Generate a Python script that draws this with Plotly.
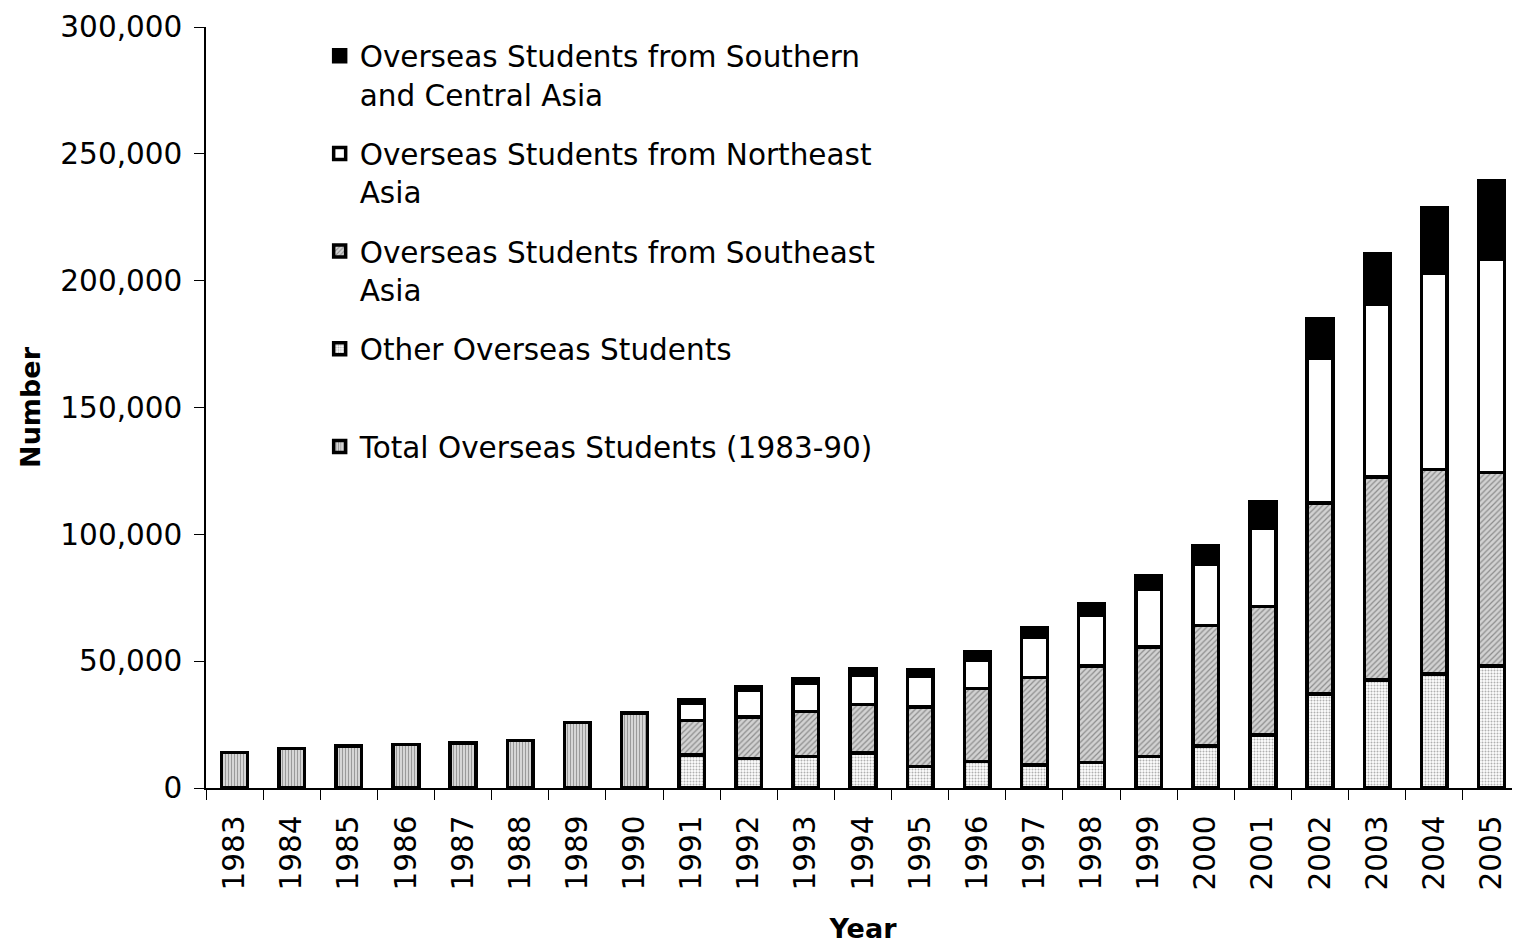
import plotly.graph_objects as go

years = [str(y) for y in range(1983, 2006)]

# 1983-90 only totals are available
total_83_90 = [13900, 15600, 16500, 17200, 17700, 18800, 25800, 29600] + [None] * 15

# 1991-2005 broken down by region
other = [None] * 8 + [13000, 11700, 12500, 13800, 8500, 10400, 9100, 10000,
                      12500, 16500, 20800, 37000, 42600, 45000, 48000]
southeast = [None] * 8 + [13600, 16200, 17700, 19100, 23500, 28800, 34400, 38000,
                          43000, 47500, 50700, 75300, 80000, 80600, 76300]
northeast = [None] * 8 + [7000, 10600, 11100, 11700, 12200, 11200, 16100, 20000,
                          23000, 24300, 31000, 57000, 68300, 77500, 84200]
southern = [None] * 8 + [1300, 1500, 1700, 2300, 2300, 3300, 3600, 4500,
                         5000, 7300, 10300, 15600, 19600, 25500, 31000]

FONT = "DejaVu Sans, sans-serif"
edge = dict(color="black", width=3.5)

fig = go.Figure()
fig.add_trace(go.Bar(
    x=years, y=other, name="Other Overseas Students<br> ",
    marker=dict(color="white", line=edge,
                pattern=dict(shape=".", bgcolor="white", fgcolor="#b0b0b0",
                             size=3, solidity=0.35, fillmode="replace")),
    legendrank=4, legendgroup="d"))
fig.add_trace(go.Bar(
    x=years, y=southeast, name="Overseas Students from Southeast<br>Asia",
    marker=dict(color="#c8c8c8", line=edge,
                pattern=dict(shape="/", bgcolor="#d2d2d2", fgcolor="#8c8c8c",
                             size=4, solidity=0.3, fillmode="replace")),
    legendrank=3, legendgroup="c"))
fig.add_trace(go.Bar(
    x=years, y=northeast, name="Overseas Students from Northeast<br>Asia",
    marker=dict(color="white", line=edge),
    legendrank=2, legendgroup="b"))
fig.add_trace(go.Bar(
    x=years, y=southern, name="Overseas Students from Southern<br>and Central Asia",
    marker=dict(color="black", line=edge),
    legendrank=1, legendgroup="a"))
fig.add_trace(go.Bar(
    x=years, y=total_83_90, name="Total Overseas Students (1983-90)",
    marker=dict(color="#cccccc", line=edge,
                pattern=dict(shape="|", bgcolor="#d6d6d6", fgcolor="#9a9a9a",
                             size=3, solidity=0.35, fillmode="replace")),
    legendrank=5, legendgroup="e"))

fig.update_layout(
    barmode="stack",
    bargap=0.55,
    width=1512, height=937,
    margin=dict(l=198, r=0, t=19, b=157),
    paper_bgcolor="white", plot_bgcolor="white",
    font=dict(family=FONT, size=28, color="black"),
    legend=dict(x=0.0865, y=0.996, xanchor="left", yanchor="top",
                valign="top", traceorder="grouped", tracegroupgap=18,
                font=dict(size=29.5), bgcolor="rgba(0,0,0,0)"),
    showlegend=True,
)
fig.update_xaxes(
    type="category", tickangle=-90, tickson="boundaries",
    ticks="outside", ticklen=10, tickcolor="black",
    ticklabelstandoff=14,
    showline=True, linecolor="black", linewidth=1.5,
    showgrid=False, automargin=False,
    title=dict(text="<b>Year</b>", font=dict(size=27), standoff=29),
    tickfont=dict(size=29.5),
)
fig.update_yaxes(
    range=[0, 300000], dtick=50000, tickformat=",d",
    ticks="outside", ticklen=10, tickcolor="black",
    ticklabelstandoff=6, ticklabeloverflow="allow",
    showline=True, linecolor="black", linewidth=1.5,
    showgrid=False, zeroline=False, automargin=False,
    title=dict(text="<b>Number</b>", font=dict(size=27), standoff=12),
    tickfont=dict(size=29.5),
)

fig.write_html("out.html")
